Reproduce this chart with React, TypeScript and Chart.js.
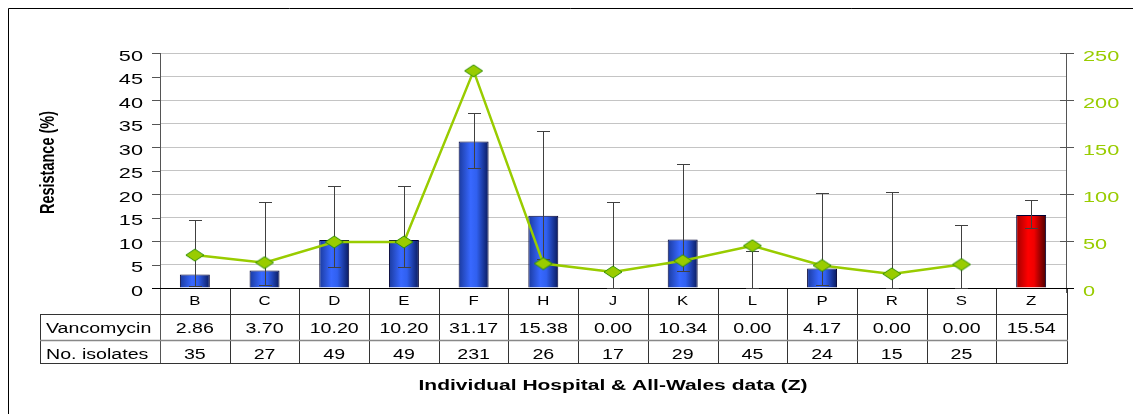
import { useEffect, useRef } from "react";
import { Chart, registerables } from "chart.js";

Chart.register(...registerables);

// Hospitals, with the All-Wales figure (Z) as the last column
const hospitals = ["B", "C", "D", "E", "F", "H", "J", "K", "L", "P", "R", "S", "Z"];
// Vancomycin resistance (%)
const vancomycin = [2.86, 3.7, 10.2, 10.2, 31.17, 15.38, 0.0, 10.34, 0.0, 4.17, 0.0, 0.0, 15.54];
// 95% confidence limits of the resistance (%)
const ciLower = [0.5, 0.7, 4.4, 4.4, 25.5, 6.2, 0.0, 3.6, 0.0, 0.7, 0.0, 0.0, 12.8];
const ciUpper = [14.5, 18.3, 21.7, 21.7, 37.3, 33.5, 18.4, 26.4, 7.9, 20.2, 20.4, 13.3, 18.7];
// Number of isolates tested (none listed for All-Wales)
const isolates: (number | null)[] = [35, 27, 49, 49, 231, 26, 17, 29, 45, 24, 15, 25, null];

const rowLabels = ["Vancomycin", "No. isolates"];
const xTitle = "Individual Hospital & All-Wales data (Z)";
const yTitle = "Resistance (%)";
const leftMax = 50;
const leftStep = 5;
const rightMax = 250;
const rightStep = 50;

const W = 1133;
const H = 414;
const PLOT = { left: 160, right: 1066, top: 53, bottom: 288 };
const ROWS = { head: 314, mid: 340, bottom: 363 };
const TABLE_LEFT = 40;
const BAR_PCT = 0.43;
const SX = 1.4; // horizontal stretch applied to all text
const FONT = '"Liberation Sans", Arial, sans-serif';
const LIME = "#99cc00";

function stretchText(
  ctx: CanvasRenderingContext2D,
  text: string,
  x: number,
  y: number,
  align: "left" | "center" | "right",
) {
  const w = ctx.measureText(text).width * SX;
  const x0 = align === "left" ? x : align === "center" ? x - w / 2 : x - w;
  ctx.save();
  ctx.translate(x0, y);
  ctx.scale(SX, 1);
  ctx.textAlign = "left";
  ctx.fillText(text, 0, 0);
  ctx.restore();
}

function makeDiamond(): HTMLCanvasElement {
  const c = document.createElement("canvas");
  c.width = 20;
  c.height = 14;
  const g = c.getContext("2d")!;
  g.beginPath();
  g.moveTo(1, 7);
  g.lineTo(10, 1);
  g.lineTo(19, 7);
  g.lineTo(10, 13);
  g.closePath();
  g.fillStyle = LIME;
  g.fill();
  g.strokeStyle = "#2f8f00";
  g.lineWidth = 1;
  g.stroke();
  return c;
}

const isAllWales = (i: number) => hospitals[i] === "Z";

const decorPlugin = {
  id: "decor",
  beforeDatasetsDraw(chart: any) {
    const ctx: CanvasRenderingContext2D = chart.ctx;
    const { x, y, y1 } = chart.scales;
    const n = hospitals.length;
    const colW = (x.right - x.left) / n;

    ctx.save();
    // outer frame
    ctx.strokeStyle = "#000";
    ctx.lineWidth = 1;
    ctx.beginPath();
    ctx.moveTo(8.5, H);
    ctx.lineTo(8.5, 8.5);
    ctx.lineTo(W, 8.5);
    ctx.stroke();

    // left axis line and ticks
    ctx.strokeStyle = "#555";
    ctx.beginPath();
    ctx.moveTo(160.5, PLOT.top);
    ctx.lineTo(160.5, ROWS.bottom);
    for (const t of y.ticks) {
      const py = Math.round(y.getPixelForValue(t.value)) + 0.5;
      ctx.moveTo(152, py);
      ctx.lineTo(160, py);
    }
    ctx.stroke();

    // right axis line and crossing ticks
    ctx.beginPath();
    ctx.moveTo(PLOT.right + 0.5, PLOT.top);
    ctx.lineTo(PLOT.right + 0.5, PLOT.bottom + 5);
    for (const t of y1.ticks) {
      const py = Math.round(y1.getPixelForValue(t.value)) + 0.5;
      ctx.moveTo(PLOT.right - 6, py);
      ctx.lineTo(PLOT.right + 8, py);
    }
    ctx.stroke();

    // tick labels
    ctx.textBaseline = "alphabetic";
    ctx.font = `15.5px ${FONT}`;
    ctx.fillStyle = "#000";
    for (const t of y.ticks) {
      const py = y.getPixelForValue(t.value);
      stretchText(ctx, String(t.value), 143, py + 7.5, "right");
    }
    ctx.fillStyle = LIME;
    for (const t of y1.ticks) {
      const py = y1.getPixelForValue(t.value);
      stretchText(ctx, String(t.value), 1083, py + 7.5, "left");
    }

    // data table grid
    ctx.strokeStyle = "#333";
    ctx.beginPath();
    for (let i = 1; i < n; i++) {
      const px = Math.round(x.left + i * colW) + 0.5;
      ctx.moveTo(px, PLOT.bottom);
      ctx.lineTo(px, ROWS.bottom);
    }
    ctx.moveTo(1067.5, PLOT.bottom);
    ctx.lineTo(1067.5, ROWS.bottom);
    ctx.moveTo(TABLE_LEFT + 0.5, ROWS.head);
    ctx.lineTo(TABLE_LEFT + 0.5, ROWS.bottom);
    ctx.moveTo(TABLE_LEFT, ROWS.head + 0.5);
    ctx.lineTo(1068, ROWS.head + 0.5);
    ctx.moveTo(TABLE_LEFT, ROWS.bottom + 0.5);
    ctx.lineTo(1068, ROWS.bottom + 0.5);
    ctx.stroke();
    ctx.strokeStyle = "#888";
    ctx.lineWidth = 1.5;
    ctx.beginPath();
    ctx.moveTo(TABLE_LEFT, ROWS.mid + 0.5);
    ctx.lineTo(1068, ROWS.mid + 0.5);
    ctx.stroke();

    // x axis line
    ctx.strokeStyle = "#000";
    ctx.lineWidth = 1;
    ctx.beginPath();
    ctx.moveTo(152, PLOT.bottom + 0.5);
    ctx.lineTo(PLOT.right + 8, PLOT.bottom + 0.5);
    ctx.stroke();

    // table text
    ctx.fillStyle = "#000";
    ctx.font = `12px ${FONT}`;
    hospitals.forEach((h, i) => {
      stretchText(ctx, h, x.getPixelForValue(i), 304.5, "center");
    });
    ctx.font = `14px ${FONT}`;
    stretchText(ctx, rowLabels[0], 46, 332.5, "left");
    stretchText(ctx, rowLabels[1], 46, 358.5, "left");
    vancomycin.forEach((v, i) => {
      stretchText(ctx, v.toFixed(2), x.getPixelForValue(i), 332.5, "center");
    });
    isolates.forEach((v, i) => {
      if (v !== null) stretchText(ctx, String(v), x.getPixelForValue(i), 358.5, "center");
    });

    // axis titles
    ctx.font = `bold 15px ${FONT}`;
    stretchText(ctx, xTitle, (PLOT.left + PLOT.right) / 2, 390, "center");
    ctx.save();
    ctx.translate(48, (PLOT.top + PLOT.bottom) / 2 - 8);
    ctx.scale(SX, 1);
    ctx.rotate(-Math.PI / 2);
    ctx.textAlign = "center";
    ctx.textBaseline = "middle";
    ctx.font = `bold 14.5px ${FONT}`;
    ctx.fillText(yTitle, 0, 0);
    ctx.restore();

    ctx.restore();
  },
  afterDatasetDraw(chart: any, args: any) {
    if (args.index !== 0) return;
    const ctx: CanvasRenderingContext2D = chart.ctx;
    const { x, y } = chart.scales;
    ctx.save();
    ctx.strokeStyle = "#404040";
    ctx.lineWidth = 1;
    ctx.beginPath();
    hospitals.forEach((_, i) => {
      const px = Math.round(x.getPixelForValue(i)) + 0.5;
      const lo = Math.round(y.getPixelForValue(ciLower[i])) + 0.5;
      const hi = Math.round(y.getPixelForValue(ciUpper[i])) + 0.5;
      ctx.moveTo(px, lo);
      ctx.lineTo(px, hi);
      ctx.moveTo(px - 6.5, hi);
      ctx.lineTo(px + 6.5, hi);
      ctx.moveTo(px - 6.5, lo);
      ctx.lineTo(px + 6.5, lo);
    });
    ctx.stroke();
    ctx.restore();
  },
};

export default function App() {
  const ref = useRef<HTMLCanvasElement>(null);

  useEffect(() => {
    if (!ref.current) return;
    const diamond = makeDiamond();

    const barFill = (c: any) => {
      const chart = c.chart;
      const xs = chart.scales?.x;
      const i = c.dataIndex;
      const fallback = i !== undefined && isAllWales(i) ? "#ee0000" : "#3366ff";
      if (!xs || i === undefined) return fallback;
      const cx = xs.getPixelForValue(i);
      const half = ((xs.right - xs.left) / hospitals.length) * BAR_PCT / 2;
      if (!Number.isFinite(cx) || !Number.isFinite(half) || half <= 0) return fallback;
      const g = chart.ctx.createLinearGradient(cx - half, 0, cx + half, 0);
      if (isAllWales(i)) {
        g.addColorStop(0, "#a00000");
        g.addColorStop(0.4, "#ff0000");
        g.addColorStop(0.6, "#f00000");
        g.addColorStop(1, "#4a0000");
      } else {
        g.addColorStop(0, "#1a3a9e");
        g.addColorStop(0.4, "#3868ff");
        g.addColorStop(0.6, "#3060f0");
        g.addColorStop(1, "#0a1a5e");
      }
      return g;
    };

    const chart = new Chart(ref.current, {
      type: "bar",
      data: {
        labels: hospitals,
        datasets: [
          {
            type: "bar",
            label: rowLabels[0],
            data: vancomycin,
            yAxisID: "y",
            order: 1,
            backgroundColor: barFill,
            borderColor: "#000033",
            borderWidth: 1,
            barPercentage: BAR_PCT,
            categoryPercentage: 1,
          },
          {
            type: "line",
            label: rowLabels[1],
            data: isolates,
            yAxisID: "y1",
            order: 0,
            borderColor: LIME,
            borderWidth: 2.5,
            pointStyle: diamond,
            pointRadius: 9,
            tension: 0,
          },
        ],
      },
      options: {
        responsive: false,
        devicePixelRatio: 1,
        animation: false,
        layout: { padding: { top: PLOT.top, left: 0, right: 0, bottom: 0 } },
        plugins: { legend: { display: false }, tooltip: { enabled: false } },
        scales: {
          x: {
            ticks: { display: false },
            grid: { display: false },
            border: { display: false },
            afterFit: (s: any) => {
              s.height = H - PLOT.bottom;
            },
          },
          y: {
            position: "left",
            min: 0,
            max: leftMax,
            ticks: { stepSize: leftStep, display: false },
            grid: { color: "#c4c4c4", drawTicks: false },
            border: { display: false },
            afterFit: (s: any) => {
              s.width = PLOT.left;
            },
          },
          y1: {
            position: "right",
            min: 0,
            max: rightMax,
            ticks: { stepSize: rightStep, display: false },
            grid: { display: false },
            border: { display: false },
            afterFit: (s: any) => {
              s.width = W - PLOT.right;
            },
          },
        },
      },
      plugins: [decorPlugin],
    });
    chart.update();
    return () => chart.destroy();
  }, []);

  return (
    <canvas
      ref={ref}
      width={W}
      height={H}
      style={{ position: "fixed", left: 0, top: 0, width: W, height: H }}
    />
  );
}
